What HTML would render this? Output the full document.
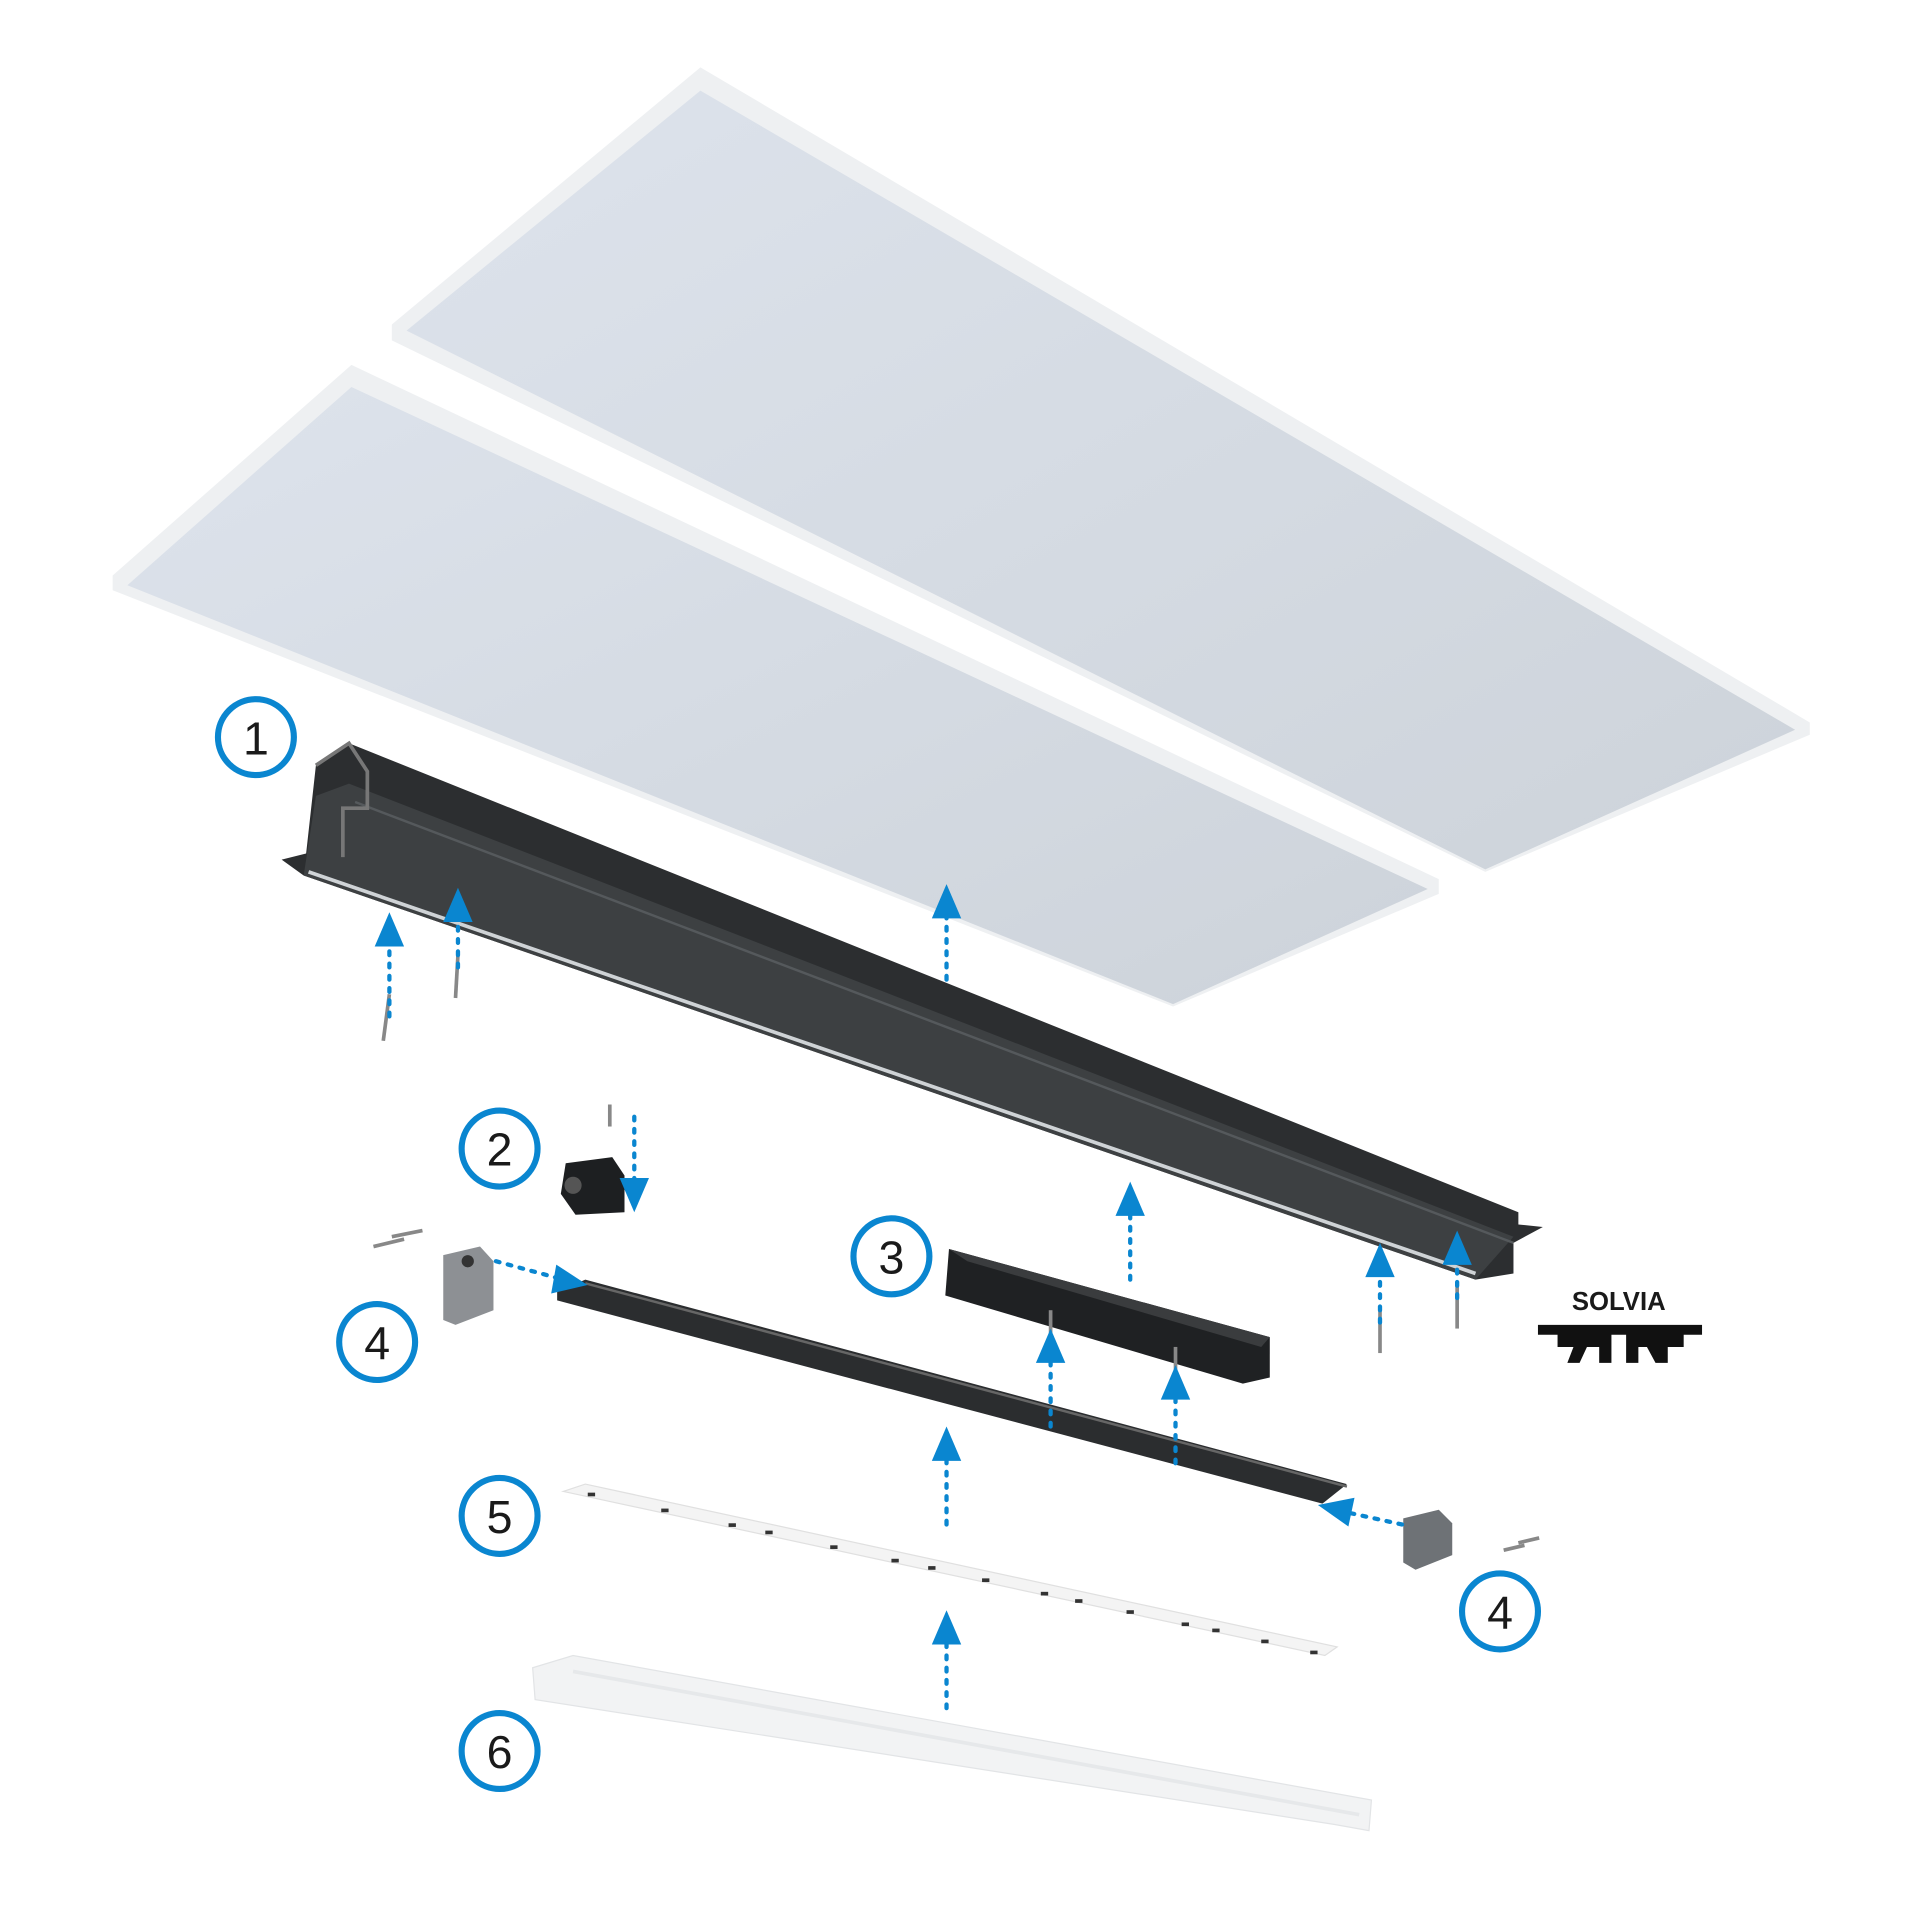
<!DOCTYPE html>
<html><head><meta charset="utf-8"><style>html,body{margin:0;padding:0;background:#fff}svg{display:block}</style></head>
<body>
<svg width="1920" height="1920" viewBox="0 0 1568 1568" xmlns="http://www.w3.org/2000/svg">
<defs>
<linearGradient id="pg" x1="0" y1="0" x2="1" y2="1"><stop offset="0" stop-color="#dde3ec"/><stop offset="1" stop-color="#cdd3da"/></linearGradient>
<g id="au"><polygon points="0,-14 -12,14 12,14" fill="#0a86d0"/></g>
</defs>
<!-- panel top -->
<polygon points="572,55 1478,590 1478,600 1213,712 320,278 320,265" fill="#eef0f2"/>
<polygon points="572,74 1466,596 1213,710 332,270" fill="url(#pg)"/>
<!-- panel 2 -->
<polygon points="287,298 1175,718 1175,730 958,822 92,482 92,470" fill="#eef0f2"/>
<polygon points="287,316 1166,726 958,820 104,478" fill="url(#pg)"/>
<!-- profile 1 -->
<polygon points="285,607 1240,990 1240,1000 1260,1002 1236,1015 1236,1040 1205,1045 248,715 230,702 250,697 258,625" fill="#2c2e30"/>
<polygon points="285,640 1236,1010 1205,1045 248,715 258,650" fill="#3d4042"/>
<line x1="252" y1="712" x2="1205" y2="1040" stroke="#cfd3d6" stroke-width="3"/>
<line x1="290" y1="655" x2="1236" y2="1015" stroke="#55595c" stroke-width="2"/>
<polyline points="258,625 285,607 300,630 300,660 280,660 280,700" fill="none" stroke="#777" stroke-width="3"/>
<!-- item 3 -->
<polygon points="775,1020 1037,1092 1037,1125 1015,1130 772,1058" fill="#1f2123"/>
<polygon points="775,1020 1037,1092 1030,1100 790,1030" fill="#3a3c3e"/>
<!-- item 2 -->
<polygon points="462,950 500,945 510,960 510,990 470,992 458,975" fill="#1d1f21"/>
<circle cx="468" cy="968" r="7" fill="#555"/>
<!-- profile 4 bar -->
<polygon points="455,1055 478,1045 1100,1212 1080,1228 455,1062" fill="#2b2d2f"/>
<line x1="478" y1="1048" x2="1100" y2="1214" stroke="#666" stroke-width="2"/>
<!-- caps -->
<polygon points="362,1025 392,1018 403,1030 403,1070 372,1082 362,1078" fill="#8d9094"/>
<circle cx="382" cy="1030" r="5" fill="#333"/>
<polygon points="1146,1240 1175,1233 1186,1244 1186,1270 1156,1282 1146,1276" fill="#6e7276"/>
<!-- LED strip -->
<polygon points="460,1218 478,1212 1092,1345 1082,1352" fill="#f4f4f4" stroke="#e0e0e0"/>
<g fill="#333">
<rect x="480" y="1219" width="6" height="3"/><rect x="540" y="1232" width="6" height="3"/><rect x="595" y="1244" width="6" height="3"/><rect x="625" y="1250" width="6" height="3"/><rect x="678" y="1262" width="6" height="3"/><rect x="728" y="1273" width="6" height="3"/><rect x="758" y="1279" width="6" height="3"/><rect x="802" y="1289" width="6" height="3"/><rect x="850" y="1300" width="6" height="3"/><rect x="878" y="1306" width="6" height="3"/><rect x="920" y="1315" width="6" height="3"/><rect x="965" y="1325" width="6" height="3"/><rect x="990" y="1330" width="6" height="3"/><rect x="1030" y="1339" width="6" height="3"/><rect x="1070" y="1348" width="6" height="3"/>
</g>
<!-- diffuser -->
<polygon points="435,1362 468,1352 1120,1470 1118,1495 1090,1490 437,1388" fill="#f2f3f4" stroke="#e2e4e6"/>
<line x1="468" y1="1365" x2="1110" y2="1482" stroke="#e6e8ea" stroke-width="3"/>
<!-- screws -->
<g stroke="#888" stroke-width="3">
<line x1="318" y1="812" x2="313" y2="850"/><line x1="374" y1="780" x2="372" y2="815"/>
<line x1="498" y1="902" x2="498" y2="920"/>
<line x1="1127" y1="1070" x2="1127" y2="1105"/><line x1="1190" y1="1050" x2="1190" y2="1085"/>
<line x1="858" y1="1070" x2="858" y2="1115"/><line x1="960" y1="1100" x2="960" y2="1140"/>
<line x1="305" y1="1018" x2="330" y2="1012"/><line x1="320" y1="1010" x2="345" y2="1005"/>
<line x1="1228" y1="1266" x2="1245" y2="1262"/><line x1="1240" y1="1260" x2="1257" y2="1256"/>
</g>
<!-- arrows -->
<g stroke="#0a86d0" stroke-width="3.5" stroke-dasharray="3 7" stroke-linecap="round" fill="none">
<line x1="318" y1="830" x2="318" y2="770"/><line x1="374" y1="790" x2="374" y2="750"/>
<line x1="773" y1="800" x2="773" y2="745"/><line x1="923" y1="1045" x2="923" y2="990"/>
<line x1="1127" y1="1080" x2="1127" y2="1040"/><line x1="1190" y1="1060" x2="1190" y2="1030"/>
<line x1="858" y1="1165" x2="858" y2="1110"/><line x1="960" y1="1195" x2="960" y2="1140"/>
<line x1="773" y1="1245" x2="773" y2="1190"/><line x1="773" y1="1395" x2="773" y2="1340"/>
<line x1="518" y1="912" x2="518" y2="965"/><line x1="405" y1="1030" x2="460" y2="1045"/>
<line x1="1145" y1="1245" x2="1095" y2="1234"/>
</g>
<use href="#au" x="318" y="759"/><use href="#au" x="374" y="739"/><use href="#au" x="773" y="736"/>
<use href="#au" x="923" y="979"/><use href="#au" x="1127" y="1029"/><use href="#au" x="1190" y="1019"/>
<use href="#au" x="858" y="1099"/><use href="#au" x="960" y="1129"/><use href="#au" x="773" y="1179"/>
<use href="#au" x="773" y="1329"/>
<use href="#au" transform="translate(518,976) rotate(180)"/>
<use href="#au" transform="translate(466,1047) rotate(100)"/>
<use href="#au" transform="translate(1090,1232) rotate(-78)"/>
<!-- circles -->
<g fill="#fff" stroke="#0a86d0" stroke-width="5">
<circle cx="209" cy="602" r="31"/><circle cx="408" cy="938" r="31"/><circle cx="728" cy="1026" r="31"/>
<circle cx="308" cy="1096" r="31"/><circle cx="408" cy="1238" r="31"/><circle cx="408" cy="1430" r="31"/>
<circle cx="1225" cy="1316" r="31"/>
</g>
<g font-family="Liberation Sans, sans-serif" font-size="38" fill="#1a1a1a" text-anchor="middle">
<text x="209" y="616">1</text><text x="408" y="952">2</text><text x="728" y="1040">3</text>
<text x="308" y="1110">4</text><text x="408" y="1252">5</text><text x="408" y="1444">6</text><text x="1225" y="1330">4</text>
</g>
<text x="1322" y="1070" font-family="Liberation Sans, sans-serif" font-weight="bold" font-size="21" fill="#1a1a1a" text-anchor="middle">SOLVIA</text>
<path d="M1256,1082 L1390,1082 L1390,1090 L1375,1090 L1375,1100 L1362,1100 L1362,1113 L1352,1113 L1345,1100 L1338,1100 L1338,1113 L1328,1113 L1328,1090 L1316,1090 L1316,1113 L1306,1113 L1306,1100 L1296,1100 L1290,1113 L1280,1113 L1285,1100 L1272,1100 L1272,1090 L1256,1090 Z" fill="#111"/>
</svg>
</body></html>
